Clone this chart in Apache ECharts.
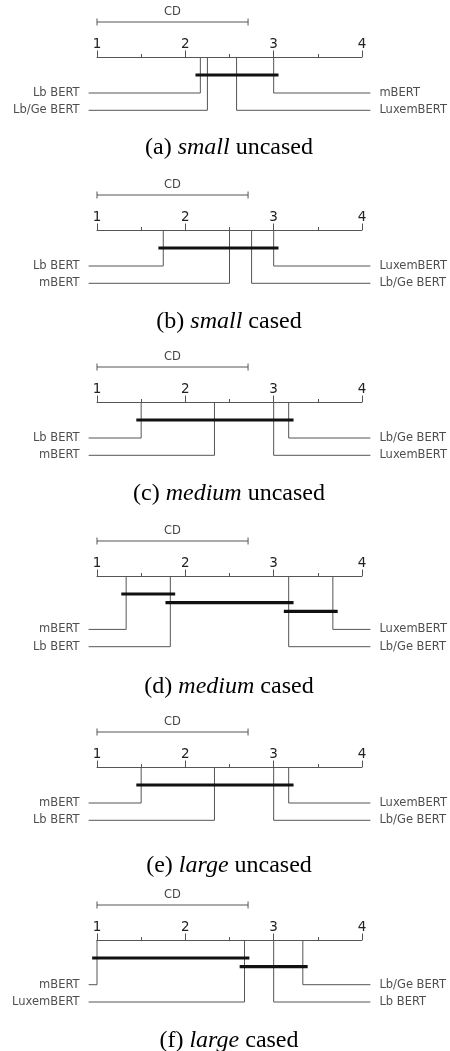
<!DOCTYPE html>
<html>
<head>
<meta charset="utf-8">
<script src="https://cdn.jsdelivr.net/npm/echarts@6/dist/echarts.min.js"></script>
<style>
  html, body { margin: 0; padding: 0; background: #fff; }
  #main { width: 450px; height: 1051px; }
</style>
</head>
<body>
<div id="main"></div>
<script>
// 数据
const models = ['Lb BERT', 'Lb/Ge BERT', 'LuxemBERT', 'mBERT'];
const panelLetters = ['a', 'b', 'c', 'd', 'e', 'f'];
const panelSizes = ['small', 'small', 'medium', 'medium', 'large', 'large'];
const panelCases = ['uncased', 'cased', 'uncased', 'cased', 'uncased', 'cased'];
// average rank per model (same order as models)
const avgRanks = [
  [2.17, 2.25, 2.58, 3.00],
  [1.75, 2.75, 3.00, 2.50],
  [1.50, 3.17, 3.00, 2.33],
  [1.83, 3.17, 3.67, 1.33],
  [2.33, 3.00, 3.17, 1.50],
  [3.00, 3.33, 2.67, 1.00]
];
// groups not significantly different (from model, to model)
const cliques = [
  [['Lb BERT', 'mBERT']],
  [['Lb BERT', 'LuxemBERT']],
  [['Lb BERT', 'Lb/Ge BERT']],
  [['mBERT', 'Lb BERT'], ['Lb BERT', 'Lb/Ge BERT'], ['Lb/Ge BERT', 'LuxemBERT']],
  [['mBERT', 'LuxemBERT']],
  [['mBERT', 'LuxemBERT'], ['LuxemBERT', 'Lb/Ge BERT']]
];
const rankMin = 1;
const rankMax = 4;
const cd = 1.71;

// 布局
const axisTop = [57, 230, 402, 576, 767, 940];
const captionMid = [148, 322, 494, 687, 866, 1041];
const gray = '#555';
const sans = 'DejaVu Sans';

let myChart = echarts.init(document.getElementById('main'));

let grids = [], xAxes = [], yAxes = [], series = [], titles = [];

// 折线段: 每条数据 [x1, y1, x2, y2, x3, y3], 不用的点填 '-'
function segSeries(p, data, color, width, z) {
  series.push({
    type: 'custom', xAxisIndex: p, yAxisIndex: p, clip: false, silent: true, z: z,
    dimensions: ['x1', 'y1', 'x2', 'y2', 'x3', 'y3'],
    encode: { x: [0, 2, 4], y: [1, 3, 5] },
    renderItem: function (params, api) {
      let pts = [];
      for (let i = 0; i < 6; i += 2) {
        let x = api.value(i), y = api.value(i + 1);
        if (x === '-' || y === '-' || isNaN(x) || isNaN(y)) break;
        pts.push(api.coord([x, y]));
      }
      return {
        type: 'polyline',
        shape: { points: pts },
        style: { stroke: color, lineWidth: width, fill: null }
      };
    },
    data: data
  });
}

for (let p = 0; p < 6; p++) {
  grids.push({ left: 97, width: 265, top: axisTop[p], height: 80 });
  xAxes.push({
    gridIndex: p, type: 'value', min: rankMin, max: rankMax, interval: 1,
    position: 'top',
    axisLine: { lineStyle: { color: gray, width: 1 } },
    axisTick: { length: 6.5, lineStyle: { color: gray, width: 1 } },
    minorTick: { show: true, splitNumber: 2, length: 3, lineStyle: { color: gray, width: 1 } },
    splitLine: { show: false },
    axisLabel: { fontFamily: sans, fontSize: 13.5, color: '#222', margin: 6 }
  });
  yAxes.push({ gridIndex: p, type: 'value', min: 0, max: 80, inverse: true, show: false });

  // CD 标尺
  segSeries(p, [
    [rankMin, -35, rankMin + cd, -35, '-', '-'],
    [rankMin, -38.5, rankMin, -31.5, '-', '-'],
    [rankMin + cd, -38.5, rankMin + cd, -31.5, '-', '-']
  ], gray, 1, 2);
  series.push({
    type: 'scatter', xAxisIndex: p, yAxisIndex: p, clip: false, silent: true,
    symbolSize: 0, itemStyle: { color: 'transparent' },
    data: [{ value: [rankMin + cd / 2, -35], name: 'CD' }],
    label: { show: true, position: 'top', distance: 4, formatter: '{b}', fontFamily: sans, fontSize: 11.5, color: '#111' }
  });

  // cliques
  let cl = cliques[p];
  let bars = [];
  for (let c = 0; c < cl.length; c++) {
    let a = avgRanks[p][models.indexOf(cl[c][0])];
    let b = avgRanks[p][models.indexOf(cl[c][1])];
    let y = 18 + c * 8.7;
    bars.push([Math.min(a, b) - 0.055, y, Math.max(a, b) + 0.055, y, '-', '-']);
  }
  segSeries(p, bars, '#111', 3.2, 5);

  // model connectors + names
  let firstRow = 18 + (cl.length - 1) * 8.7 + 18;
  let order = models.map((m, i) => i).sort((i, j) => avgRanks[p][i] - avgRanks[p][j]);
  let labelData = [], links = [];
  order.forEach((mi, k) => {
    let r = avgRanks[p][mi];
    let left = k < order.length / 2;
    let row = left ? k : order.length - 1 - k;
    let y = firstRow + row * 17.3;
    let endX = left ? rankMin - 0.095 : rankMax + 0.095;
    links.push([r, 0, r, y, endX, y]);
    labelData.push({
      value: [endX, y], name: models[mi],
      label: { position: left ? 'left' : 'right' }
    });
  });
  segSeries(p, links, gray, 1, 2);
  series.push({
    type: 'scatter', xAxisIndex: p, yAxisIndex: p, clip: false, silent: true,
    symbolSize: 0, itemStyle: { color: 'transparent' },
    data: labelData,
    label: { show: true, distance: 9, formatter: '{b}', fontFamily: sans, fontSize: 11.5, color: '#222' }
  });

  titles.push({
    text: '{n|(' + panelLetters[p] + ') }{i|' + panelSizes[p] + '}{n| ' + panelCases[p] + '}',
    left: 229, top: captionMid[p], padding: 0,
    textAlign: 'center', textVerticalAlign: 'middle',
    textStyle: {
      fontWeight: 'normal',
      rich: {
        n: { fontFamily: 'Liberation Serif', fontSize: 24, fontWeight: 'normal', color: '#000', lineHeight: 27 },
        i: { fontFamily: 'Liberation Serif', fontSize: 24, fontWeight: 'normal', fontStyle: 'italic', color: '#000', lineHeight: 27 }
      }
    }
  });
}

let option = {
  animation: false,
  backgroundColor: '#fff',
  title: titles,
  grid: grids,
  xAxis: xAxes,
  yAxis: yAxes,
  series: series
};
myChart.setOption(option);
</script>
</body>
</html>
